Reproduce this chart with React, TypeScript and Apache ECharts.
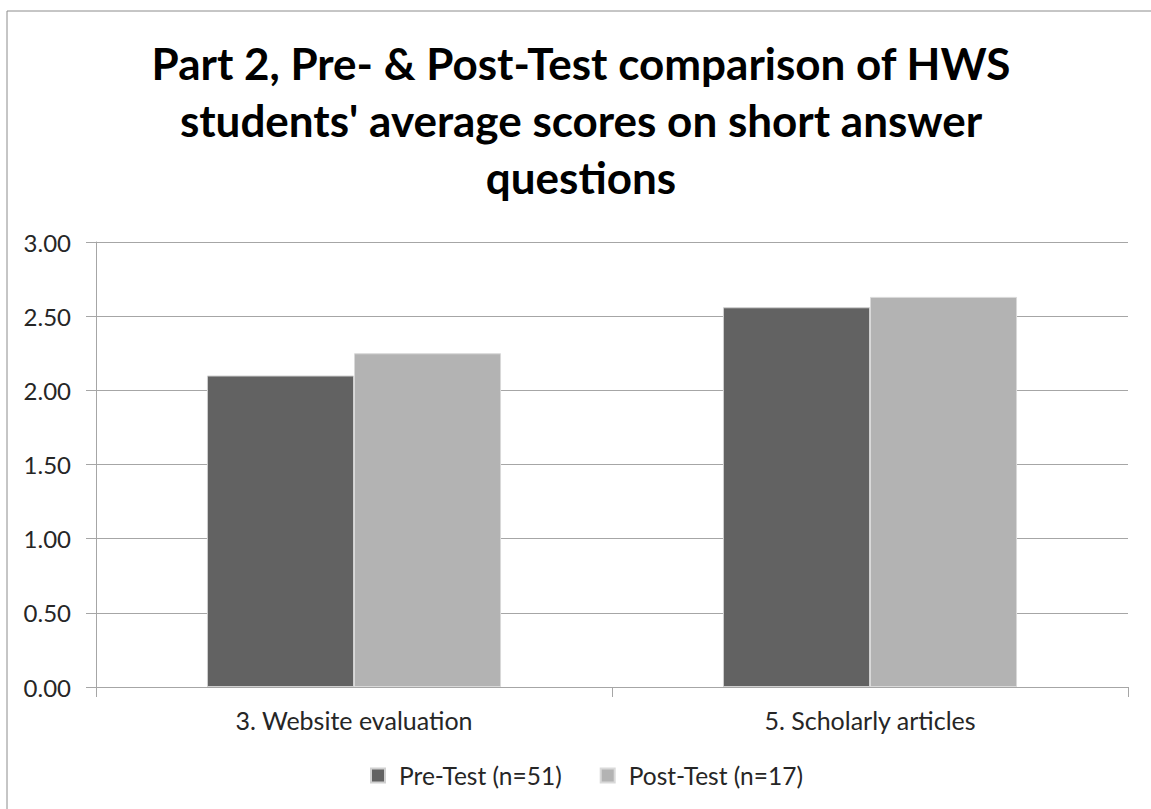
import React, { useEffect, useRef } from "react";
import * as echarts from "echarts";

const categories = ["3. Website evaluation", "5. Scholarly articles"];
const seriesNames = ["Pre-Test (n=51)", "Post-Test (n=17)"];
const preTest = [2.1, 2.56];
const postTest = [2.25, 2.63];
const titleLines = [
  "Part 2, Pre- & Post-Test comparison of HWS",
  "students' average scores on short answer",
  "questions",
];
const yMin = 0;
const yMax = 3;
const yStep = 0.5;

const FONT = "Lato";

export default function App() {
  const ref = useRef<HTMLDivElement>(null);
  useEffect(() => {
    if (!ref.current) return;
    const chart = echarts.init(ref.current, undefined, { renderer: "svg" });
    chart.setOption({
      animation: false,
      backgroundColor: "#ffffff",
      textStyle: { fontFamily: FONT },
      graphic: [
        {
          type: "rect",
          shape: { x: 7, y: 11, width: 1200, height: 900 },
          style: { fill: "none", stroke: "#8c8c8c", lineWidth: 1 },
          silent: true,
        },
        {
          type: "text",
          x: 581,
          y: 34,
          style: {
            text: titleLines.join("\n"),
            fontFamily: FONT,
            fontWeight: "bold",
            fontSize: 44,
            lineHeight: 57,
            fill: "#000000",
            align: "center",
            verticalAlign: "top",
          },
        },
      ],
      legend: {
        data: seriesNames,
        left: 370,
        top: 763,
        padding: 0,
        icon: "rect",
        itemWidth: 14,
        itemHeight: 14,
        itemGap: 38,
        textStyle: {
          fontFamily: FONT,
          fontSize: 24.5,
          color: "#262626",
          padding: [0, 0, 0, 9],
        },
      },
      grid: { left: 96, right: 23, top: 242, bottom: 122, containLabel: false },
      xAxis: {
        type: "category",
        data: categories,
        axisLine: { lineStyle: { color: "#a6a6a6", width: 1 } },
        axisTick: { show: true, length: 10, lineStyle: { color: "#a6a6a6" } },
        axisLabel: { fontFamily: FONT, fontSize: 25, color: "#262626", margin: 20 },
      },
      yAxis: {
        type: "value",
        min: yMin,
        max: yMax,
        interval: yStep,
        axisLine: { show: true, lineStyle: { color: "#a6a6a6", width: 1 } },
        axisTick: { show: true, length: 10, lineStyle: { color: "#a6a6a6" } },
        splitLine: { show: true, lineStyle: { color: "#a6a6a6", width: 1 } },
        axisLabel: {
          fontFamily: FONT,
          fontSize: 24,
          color: "#262626",
          margin: 25,
          formatter: (v: number) => v.toFixed(2),
        },
      },
      series: [
        {
          name: seriesNames[0],
          type: "bar",
          data: preTest,
          barGap: "0%",
          barCategoryGap: "43%",
          itemStyle: { color: "#626262", borderColor: "#d0d0d0", borderWidth: 1 },
        },
        {
          name: seriesNames[1],
          type: "bar",
          data: postTest,
          barGap: "0%",
          barCategoryGap: "43%",
          itemStyle: { color: "#b3b3b3", borderColor: "#d9d9d9", borderWidth: 1 },
        },
      ],
    });
    return () => chart.dispose();
  }, []);
  return (
    <div
      ref={ref}
      style={{ position: "absolute", left: 0, top: 0, width: 1151, height: 809 }}
    />
  );
}
